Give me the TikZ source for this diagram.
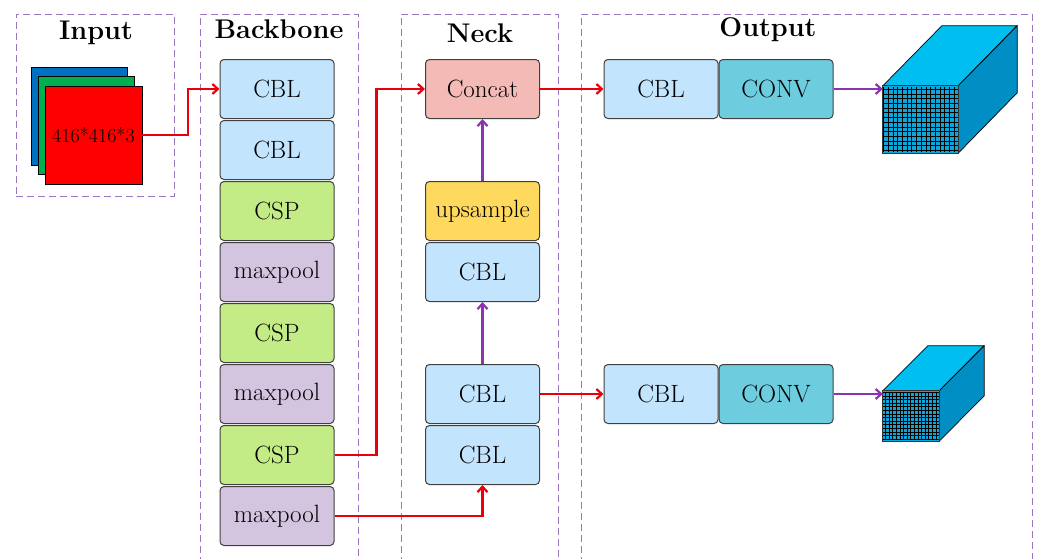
\documentclass[tikz,border=0pt]{standalone}
\usetikzlibrary{arrows.meta}
\definecolor{cblc}{HTML}{C3E4FD}
\definecolor{cspc}{HTML}{C3EB86}
\definecolor{poolc}{HTML}{D3C4DF}
\definecolor{catc}{HTML}{F4BAB6}
\definecolor{upc}{HTML}{FFD95E}
\definecolor{convc}{HTML}{6ECCDF}
\definecolor{panelc}{HTML}{9A76C0}
\definecolor{redline}{HTML}{E8000B}
\definecolor{purpline}{HTML}{8A35B0}
\definecolor{chblue}{HTML}{0070C0}
\definecolor{chgreen}{HTML}{00B050}
\definecolor{chred}{HTML}{FF0000}
\definecolor{cubetop}{HTML}{00BFF0}
\definecolor{cubeside}{HTML}{008EC4}
\definecolor{cubefront}{HTML}{0BA6DA}
\tikzset{
  blk/.style={draw=black!75, line width=1pt, rounded corners=4pt,
    minimum width=114pt, minimum height=59pt, inner sep=0pt,
    font=\fontsize{25}{28}\selectfont},
  cbl/.style={blk, fill=cblc},
  csp/.style={blk, fill=cspc},
  pool/.style={blk, fill=poolc},
  panel/.style={draw=panelc, line width=1pt, dash pattern=on 7pt off 4pt},
  ptitle/.style={font=\fontsize{27}{31}\selectfont\bfseries},
  redarr/.style={draw=redline, line width=2.2pt, -{Straight Barb[length=5.5pt,width=10pt]}},
  purarr/.style={draw=purpline, line width=2.2pt, -{Straight Barb[length=5.5pt,width=10pt]}},
  chan/.style={draw=black, line width=0.7pt, minimum width=96pt, minimum height=98pt, inner sep=0pt}
}
\begin{document}
\begin{tikzpicture}[x=1pt, y=-1pt]
\useasboundingbox (0,0) rectangle (1040,558);
\fill[white] (0,0) rectangle (1040,558);

% panels
\node[panel, minimum width=158pt, minimum height=182pt, inner sep=0pt] (pin) at (95,105) {};
\draw[panel] (200,575) |- (358,14) -- (358,575);
\draw[panel] (401,575) |- (558,14) -- (558,575);
\draw[panel] (581,575) |- (1032,14) -- (1032,575);
\node[ptitle] (tin) at (96,33) {Input};
\node[ptitle] (tbb) at (279,29) {Backbone};
\node[ptitle] (tnk) at (480,33) {Neck};
\node[ptitle] (tout) at (768,30) {Output};

% input channels
\node[chan, fill=chblue] (inb) at (79,116) {};
\node[chan, fill=chgreen] (ing) at (86,125.5) {};
\node[chan, fill=chred, minimum width=97pt] (inr) at (93.5,135)
  {\fontsize{20}{22}\selectfont 416*416*3};

% backbone
\node[cbl]  (b1) at (277,89)  {CBL};
\node[cbl]  (b2) at (277,150) {CBL};
\node[csp]  (b3) at (277,211) {CSP};
\node[pool] (b4) at (277,272) {maxpool};
\node[csp]  (b5) at (277,333) {CSP};
\node[pool] (b6) at (277,394) {maxpool};
\node[csp]  (b7) at (277,455) {CSP};
\node[pool] (b8) at (277,516) {maxpool};

% neck
\node[blk, fill=catc] (n1) at (482.5,89)  {Concat};
\node[blk, fill=upc]  (n2) at (482.5,211) {upsample};
\node[cbl]            (n3) at (482.5,272) {CBL};
\node[cbl]            (n4) at (482.5,394) {CBL};
\node[cbl]            (n5) at (482.5,455) {CBL};

% output heads
\node[cbl] (o1) at (661,89) {CBL};
\node[blk, fill=convc] (c1) at (776,89) {CONV};
\node[cbl] (o2) at (661,394) {CBL};
\node[blk, fill=convc] (c2) at (776,394) {CONV};

% output tensors
\node[minimum width=75pt, minimum height=67pt, inner sep=0pt] (f1) at (920.5,119.5) {};
\fill[cubetop, draw=black, line width=0.7pt] (f1.north west) -- ++(59,-60) -- ++(75,0) -- (f1.north east) -- cycle;
\fill[cubeside, draw=black, line width=0.7pt] (f1.north east) -- ++(59,-60) -- ++(0,67) -- (f1.south east) -- cycle;
\fill[cubefront] (f1.south west) rectangle (f1.north east);
\begin{scope}
  \clip (f1.south west) rectangle (f1.north east);
  \draw[black, line width=0.8pt, step=4.7pt] ([shift={(-1,-1)}]f1.south west) grid ([shift={(1,1)}]f1.north east);
\end{scope}
\draw[black!80, line width=0.8pt] (f1.south west) rectangle (f1.north east);

\node[minimum width=56pt, minimum height=50pt, inner sep=0pt] (f2) at (911,416) {};
\fill[cubetop, draw=black, line width=0.7pt] (f2.north west) -- ++(45,-45) -- ++(56,0) -- (f2.north east) -- cycle;
\fill[cubeside, draw=black, line width=0.7pt] (f2.north east) -- ++(45,-45) -- ++(0,50) -- (f2.south east) -- cycle;
\fill[cubefront] (f2.south west) rectangle (f2.north east);
\begin{scope}
  \clip (f2.south west) rectangle (f2.north east);
  \draw[black, line width=0.8pt, step=3.6pt] ([shift={(-1,-1)}]f2.south west) grid ([shift={(1,1)}]f2.north east);
\end{scope}
\draw[black!80, line width=0.8pt] (f2.south west) rectangle (f2.north east);

% connectors
\draw[redarr] (inr.east) -- ++(46,0) |- (b1.west);
\draw[redarr] (b7.east) -- ++(42,0) |- (n1.west);
\draw[redarr] (b8.east) -| (n5.south);
\draw[purarr] (n4.north) -- (n3.south);
\draw[purarr] (n2.north) -- (n1.south);
\draw[redarr] (n1.east) -- (o1.west);
\draw[redarr] (n4.east) -- (o2.west);
\draw[purarr] (c1.east) -- (c1.east -| f1.west);
\draw[purarr] (c2.east) -- (c2.east -| f2.west);
\end{tikzpicture}
\end{document}
